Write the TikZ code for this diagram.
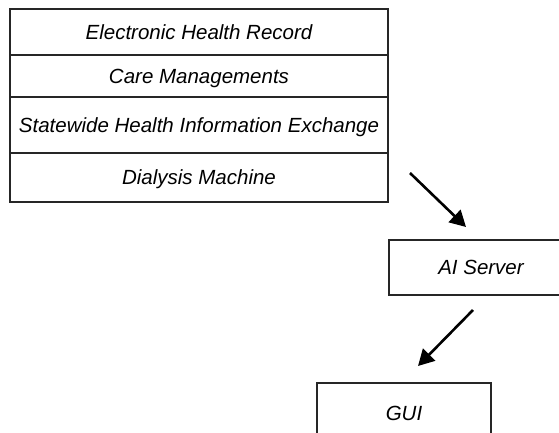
\documentclass[tikz,border=0pt]{standalone}
\usepackage{fontspec}
\setmainfont{Liberation Sans}
\usetikzlibrary{arrows.meta,positioning}

\tikzset{
  layer/.style={draw=black!85, line width=1.4pt, minimum width=378pt,
    inner sep=0pt, text depth=0pt, font=\fontsize{20.5}{24}\selectfont\itshape},
  unit/.style={draw=black!85, line width=1.4pt, inner sep=0pt,
    font=\fontsize{20.5}{24}\selectfont\itshape},
  flow/.style={-{Triangle[length=16pt,width=17pt]}, line width=2.6pt, black}
}

\begin{document}
\begin{tikzpicture}[x=1pt,y=-1pt]
  \useasboundingbox (0,0) rectangle (559,433);
  \clip (0,0) rectangle (559,433);
  % Data sources
  \node[layer, minimum height=46pt] (ehr) at (199,32) {Electronic Health Record};
  \node[layer, minimum height=42pt] (care) at (199,76) {Care Managements};
  \node[layer, minimum height=56pt] (shie) at (199,125) {Statewide Health Information Exchange};
  \node[layer, minimum height=49pt] (dialysis) at (199,177.5) {Dialysis Machine};
  % Server and interface
  \node[unit, minimum width=184pt, minimum height=55pt] (server) at (481,267.5) {AI Server};
  \node[unit, minimum width=174pt, minimum height=60pt] (gui) at (404,413) {GUI};
  % Arrows
  \coordinate (in1) at (410,173);
  \coordinate (out1) at (466,227);
  \coordinate (in2) at (473,310);
  \coordinate (out2) at (418,366);
  \draw[flow] (in1) -- (out1);
  \draw[flow] (in2) -- (out2);
\end{tikzpicture}
\end{document}
